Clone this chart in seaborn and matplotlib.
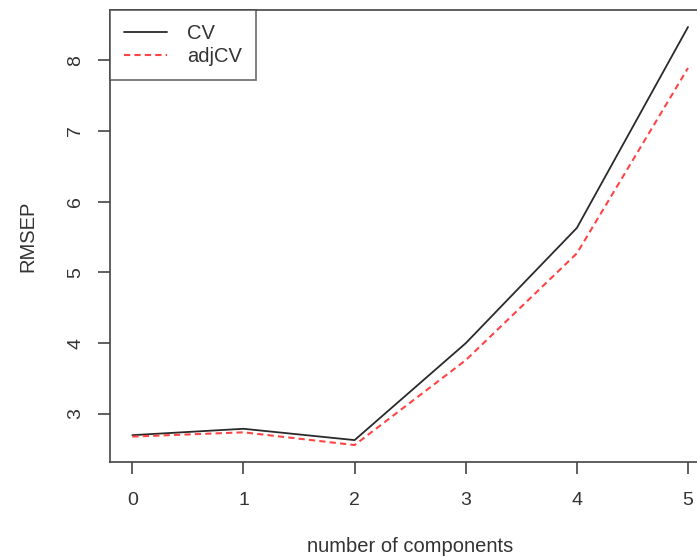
import matplotlib
matplotlib.use("Agg")
import matplotlib.pyplot as plt
import seaborn as sns
import pandas as pd

# RMSEP by number of components
components = [0, 1, 2, 3, 4, 5]
cv = [2.70, 2.79, 2.63, 4.00, 5.63, 8.47]
adj_cv = [2.68, 2.74, 2.56, 3.76, 5.27, 7.89]

sns.set_style("ticks")
plt.rcParams['font.family'] = ['Liberation Sans', 'DejaVu Sans']

df = pd.DataFrame({"ncomp": components, "CV": cv, "adjCV": adj_cv})

fig = plt.figure(figsize=(6.97, 5.56), dpi=100)
ax = fig.add_axes([0.158, 0.169, 0.861, 0.813])

sns.lineplot(data=df, x="ncomp", y="CV", ax=ax, color="#2a2a2a", linewidth=1.3, label="CV")
sns.lineplot(data=df, x="ncomp", y="adjCV", ax=ax, color="#ff4444", linewidth=1.5,
             linestyle=(0, (3, 2)), label="adjCV")

ax.set_xlim(-0.2, 5.2)
ax.set_ylim(2.32, 8.71)
ax.set_xticks(components)
ax.set_yticks([3, 4, 5, 6, 7, 8])
ax.set_xlabel("number of components", fontsize=14.5, color="#333333", labelpad=20)
ax.set_ylabel("RMSEP", fontsize=14.5, color="#333333", labelpad=22)
ax.tick_params(labelsize=14, length=8.5, width=1.2, colors="#444444", labelcolor="#333333", pad=10)
ax.tick_params(axis="x", pad=13)
for lbl in ax.get_yticklabels():
    lbl.set_rotation(90)
    lbl.set_va("center")
for sp in ax.spines.values():
    sp.set_visible(True)
    sp.set_color("#444444")
    sp.set_linewidth(1.2)

leg = ax.legend(loc="upper left", fontsize=14.5, frameon=True, fancybox=False,
                borderaxespad=0, handlelength=2.1, borderpad=0.7, labelspacing=0.2,
                handletextpad=1.0)
leg.get_frame().set_edgecolor("#444444")
leg.get_frame().set_linewidth(1.2)
for t in leg.get_texts():
    t.set_color("#333333")

fig.savefig("out.png", dpi=100)
